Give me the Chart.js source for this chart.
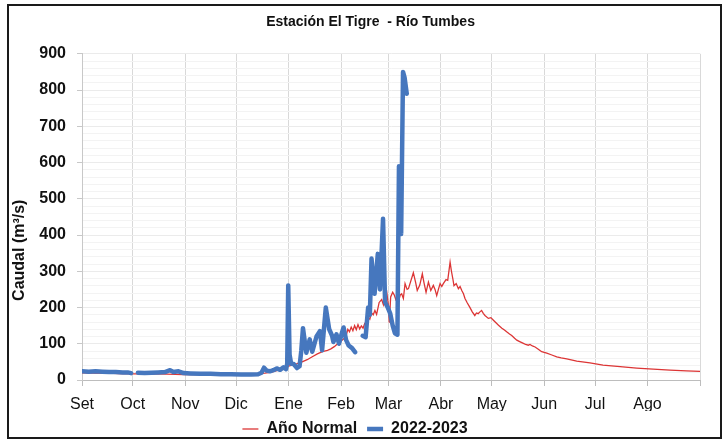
<!DOCTYPE html>
<html>
<head>
<meta charset="utf-8">
<script src="https://cdn.jsdelivr.net/npm/chart.js@4.4.1/dist/chart.umd.min.js"></script>
<style>
  html, body { margin: 0; padding: 0; background: #fff; }
  #wrap { position: relative; width: 725px; height: 440px; }
  #frame { position: absolute; left: 7px; top: 4px; width: 711px; height: 431px; border: 2px solid #1a1a1a; pointer-events: none; }
  canvas { position: absolute; left: 0; top: 0; }
</style>
</head>
<body>
<div id="wrap">
  <canvas id="c" width="725" height="440"></canvas>
  <div id="frame"></div>
</div>
<script>
// Days counted from 1 September
const monthDays = [0, 30, 61, 91, 122, 153, 181, 212, 242, 273, 303, 334, 365];
const monthLabels = ['Set', 'Oct', 'Nov', 'Dic', 'Ene', 'Feb', 'Mar', 'Abr', 'May', 'Jun', 'Jul', 'Ago', ''];

// Año Normal
const normalDays = [0, 8, 15, 22, 30, 40, 50, 60, 70, 80, 90, 98, 104, 108, 112, 115, 118, 121, 124, 127, 130, 133, 136, 139, 142, 145, 147, 149, 151, 153, 155, 156, 157, 158, 159, 160, 161, 162, 163, 164, 165, 166, 167, 168, 169, 170, 171, 172, 173, 174, 175.5, 177, 178, 179, 180, 181, 181.5, 182.3, 183.5, 184.5, 185.5, 186.8, 188, 188.8, 189.8, 190.8, 192, 192.8, 194, 195.7, 197, 198, 199.5, 201, 202, 203.2, 204.6, 206, 207.5, 208.5, 209.5, 210.5, 211.5, 212.5, 213.4, 215, 216, 217.4, 218.2, 219, 219.7, 221, 222.3, 223.3, 224.3, 225.3, 226.2, 227.5, 229, 230.5, 232, 233, 234, 235, 236, 237, 238, 240, 241.5, 243, 244.5, 246, 248, 249.5, 250.8, 252.5, 253.8, 255.5, 256.8, 258.5, 260.7, 262, 263.6, 264.6, 266, 267.6, 269.5, 271.5, 274.5, 277.5, 280.4, 283, 286.3, 292.2, 300, 307.7, 317.8, 327.6, 337.3, 347.3, 357, 365];
const normalVals = [20, 19, 19, 18, 17, 17, 16, 15, 15, 15, 15, 16, 17, 19, 22, 26, 32, 37, 41, 45, 50, 56, 64, 72, 78, 82, 86, 92, 100, 108, 115, 122, 140, 133, 146, 136, 150, 139, 153, 141, 149, 143, 156, 160, 173, 168, 185, 180, 192, 181, 214, 222, 208, 232, 242, 205, 158, 229, 242, 234, 220, 215, 235, 238, 225, 266, 250, 252, 270, 296, 270, 247, 262, 293, 268, 242, 270, 247, 261, 250, 233, 250, 266, 258, 266, 277, 275, 325, 300, 280, 260, 266, 252, 258, 247, 238, 225, 213, 201, 188, 178, 185, 183, 188, 192, 184, 178, 170, 172, 165, 158, 151, 143, 138, 133, 127, 123, 115, 110, 106, 101, 98, 96, 98, 94, 91, 85, 78, 74, 69, 64, 61, 58, 52, 47, 41, 37, 33, 30, 27, 25, 24];

// 2022-2023 (null = missing data)
const obsDays = [0, 4, 8, 12, 16, 20, 24, 27, 29, 30.5, 33, 37, 41, 45, 49, 52, 54, 57, 60, 64, 70, 76, 82, 88, 94, 100, 104, 106, 107.5, 109, 111, 113, 115, 117, 119, 120.5, 121.2, 121.8, 122.6, 123.5, 125, 127, 128.5, 129.5, 130.5, 132.5, 134.5, 136, 138.5, 140.5, 141.8, 144, 146, 147.7, 148.5, 150.3, 151.8, 153.5, 154.5, 156, 157.5, 159.5, 161.3, 162.5, 165.8, 167.5, 169, 170, 171, 172.8, 174.7, 176, 177.8, 179, 180.5, 182, 183.5, 184.8, 186.3, 187.2, 187.8, 188.5, 189.6, 190.5, 191.8];
const obsVals = [24, 23, 24, 23, 22, 22, 21, 21, 19, null, 20, 19, 20, 21, 22, 27, 22, 24, 19, 18, 17, 17, 16, 16, 15, 15, 16, 20, 34, 26, 24, 27, 32, 28, 35, 30, 45, 261, 70, 45, 44, 33, 38, 80, 143, 75, 112, 78, 120, 135, 82, 200, 140, 122, 105, 126, 100, 130, 145, 110, 95, 88, 77, null, 122, 118, 200, 180, 335, 238, 348, 250, 445, 215, 201, 184, 150, 129, 125, 590, 500, 403, 850, 835, 790];

const yMin = 0, yMax = 900, yMinorStep = 20, yMajorStep = 100;

const FONT = "'Liberation Sans', Arial, sans-serif";
const NB = '\u00a0';

const toPts = (xs, ys) => xs.map((x, i) => ({ x: x, y: ys[i] }));

new Chart(document.getElementById('c'), {
  type: 'line',
  data: {
    datasets: [
      {
        label: '2022-2023',
        data: toPts(obsDays, obsVals),
        borderColor: '#4677be',
        backgroundColor: '#4677be',
        borderWidth: 4.5,
        pointRadius: 0,
        tension: 0,
        spanGaps: false,
        borderJoinStyle: 'round',
        borderCapStyle: 'round'
      },
      {
        label: 'Año Normal',
        data: toPts(normalDays, normalVals),
        borderColor: '#dc3535',
        backgroundColor: '#dc3535',
        borderWidth: 1.3,
        pointRadius: 0,
        tension: 0
      }
    ]
  },
  options: {
    responsive: false,
    animation: false,
    events: [],
    layout: { padding: { left: 10, right: 25, top: 8, bottom: -7 } },
    plugins: {
      title: {
        display: true,
        text: NB.repeat(8) + 'Estación El Tigre  - Río Tumbes',
        color: '#111',
        font: { family: FONT, size: 14, weight: 'bold' },
        padding: { top: 6, bottom: 23 }
      },
      legend: {
        position: 'bottom',
        reverse: true,
        labels: {
          usePointStyle: true,
          pointStyle: 'line',
          pointStyleWidth: 16,
          color: '#111',
          padding: 10,
          font: { family: FONT, size: 16, weight: 'bold' }
        }
      },
      tooltip: { enabled: false }
    },
    scales: {
      x: {
        type: 'linear',
        min: 0,
        max: 365,
        afterBuildTicks: (s) => { s.ticks = monthDays.map(v => ({ value: v })); },
        afterFit: (s) => { s.height = 31; },
        ticks: {
          autoSkip: false,
          maxRotation: 0,
          padding: 9,
          color: '#111',
          font: { family: FONT, size: 16 },
          callback: (v, i) => monthLabels[i]
        },
        grid: { color: '#d9d9d9', tickColor: '#bdbdbd', tickLength: 6, lineWidth: 1 },
        border: { color: '#bdbdbd' }
      },
      y: {
        min: yMin,
        max: yMax,
        afterFit: (s) => { s.width = 72; },
        ticks: {
          stepSize: yMinorStep,
          autoSkip: false,
          padding: 11,
          color: '#111',
          font: { family: FONT, size: 16, weight: 'bold' },
          callback: (v) => (v % yMajorStep === 0 ? String(v) : '')
        },
        grid: {
          color: (ctx) => (ctx.tick && ctx.tick.value % yMajorStep === 0 ? '#ebebeb' : '#f3f3f3'),
          tickColor: (ctx) => (ctx.tick && ctx.tick.value % yMajorStep === 0 ? '#c8c8c8' : 'rgba(0,0,0,0)'),
          tickLength: 5
        },
        border: { color: '#c8c8c8' },
        title: {
          display: true,
          text: 'Caudal (m³/s)' + NB.repeat(15),
          color: '#111',
          padding: { top: 0, bottom: 2 },
          font: { family: FONT, size: 16, weight: 'bold' }
        }
      }
    }
  }
});
</script>
</body>
</html>
